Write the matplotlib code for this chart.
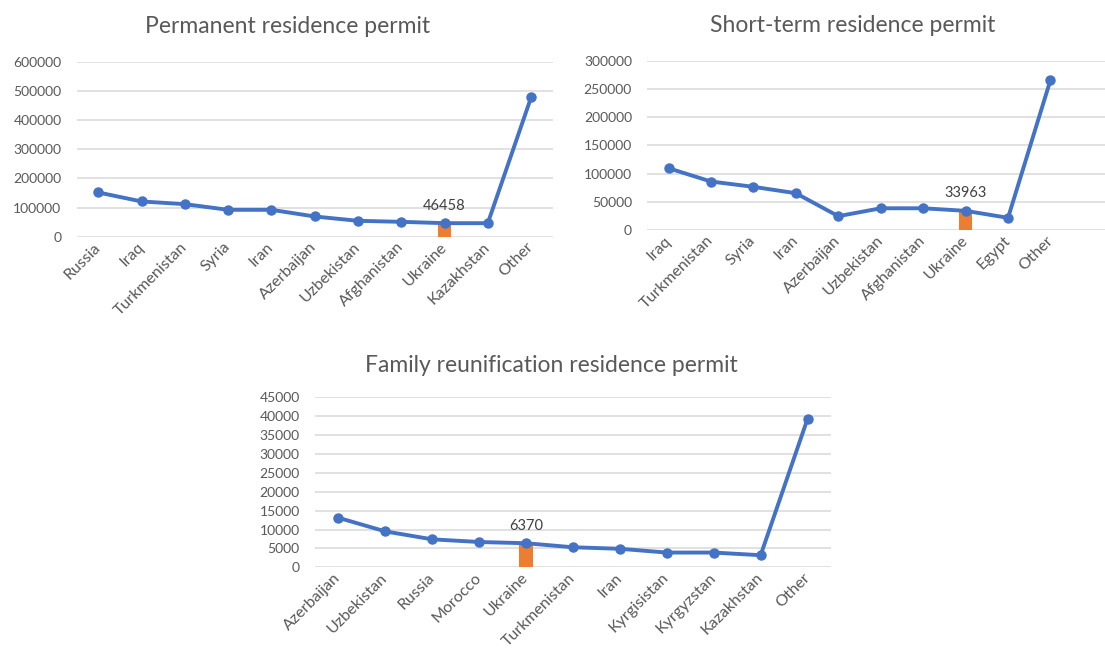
import matplotlib
matplotlib.use("Agg")
import matplotlib.pyplot as plt
import matplotlib.transforms as mtransforms

plt.rcParams['font.family'] = ['Lato', 'DejaVu Sans']

# ---- data ----
perm_countries = ["Russia", "Iraq", "Turkmenistan", "Syria", "Iran", "Azerbaijan",
                  "Uzbekistan", "Afghanistan", "Ukraine", "Kazakhstan", "Other"]
perm_values = [151600, 120800, 111600, 92200, 92200, 69300, 54500, 51000, 46458, 46300, 477400]
perm_ticks = [0, 100000, 200000, 300000, 400000, 500000, 600000]

short_countries = ["Iraq", "Turkmenistan", "Syria", "Iran", "Azerbaijan", "Uzbekistan",
                   "Afghanistan", "Ukraine", "Egypt", "Other"]
short_values = [109500, 85900, 76500, 65200, 24500, 38500, 38500, 33963, 21600, 265800]
short_ticks = [0, 50000, 100000, 150000, 200000, 250000, 300000]

family_countries = ["Azerbaijan", "Uzbekistan", "Russia", "Morocco", "Ukraine", "Turkmenistan",
                    "Iran", "Kyrgisistan", "Kyrgyzstan", "Kazakhstan", "Other"]
family_values = [13100, 9500, 7400, 6700, 6370, 5300, 4900, 3900, 3900, 3200, 39300]
family_ticks = [0, 5000, 10000, 15000, 20000, 25000, 30000, 35000, 40000, 45000]

highlight = "Ukraine"

LINE = "#4472C4"
BAR = "#ED7D31"
GRID = "#D9D9D9"
TXT = "#595959"
LBL = "#404040"

W, H = 1105, 650
fig = plt.figure(figsize=(W / 100, H / 100), dpi=100)


def px_axes(left, right, top, bottom):
    return fig.add_axes([left / W, (H - bottom) / H, (right - left) / W, (bottom - top) / H])


def draw(ax, cats, vals, ticks, title, title_xy, xmax=None):
    n = len(cats)
    x = list(range(n))
    i = cats.index(highlight)
    ax.bar([i], [vals[i]], width=0.3, color=BAR, zorder=2)
    ax.plot(x, vals, color=LINE, lw=2.8, marker="o", ms=6.5, zorder=3,
            solid_capstyle="round", solid_joinstyle="round")
    ax.annotate(f"{vals[i]}", (i, vals[i]), xytext=(0, 12.5), textcoords="offset points",
                ha="center", va="center", fontsize=10.5, color=LBL)
    ax.set_ylim(ticks[0], ticks[-1])
    ax.set_yticks(ticks)
    ax.set_yticklabels([str(t) for t in ticks])
    ax.set_xlim(-0.5, (n - 0.5) if xmax is None else xmax)
    ax.set_xticks(x)
    ax.set_xticklabels(cats, rotation=45, ha="right", va="center", rotation_mode="anchor",
                       fontsize=11.5)
    offset = mtransforms.ScaledTranslation(5 / 100, -13 / 100, fig.dpi_scale_trans)
    for lab in ax.get_xticklabels():
        lab.set_transform(lab.get_transform() + offset)
    ax.tick_params(axis="both", length=0, colors=TXT)
    ax.tick_params(axis="y", pad=11, labelsize=10)
    ax.tick_params(axis="x", pad=6)
    ax.grid(axis="y", color=GRID, lw=1.1, zorder=0)
    ax.set_axisbelow(True)
    for s in ax.spines.values():
        s.set_visible(False)
    fig.text(title_xy[0] / W, 1 - title_xy[1] / H, title, ha="center", va="baseline",
             fontsize=16.5, color=TXT)


ax1 = px_axes(76.7, 552.7, 61.7, 236.7)
draw(ax1, perm_countries, perm_values, perm_ticks, "Permanent residence permit", (287.5, 33.3))

ax2 = px_axes(647.3, 1105, 60.7, 230)
draw(ax2, short_countries, short_values, short_ticks, "Short-term residence permit",
     (853, 32.3), xmax=-0.5 + (1105 - 647.3) / 42.44)

ax3 = px_axes(315, 831, 397.3, 567.3)
draw(ax3, family_countries, family_values, family_ticks, "Family reunification residence permit",
     (551, 371.7))

fig.savefig("out.png", dpi=100)
